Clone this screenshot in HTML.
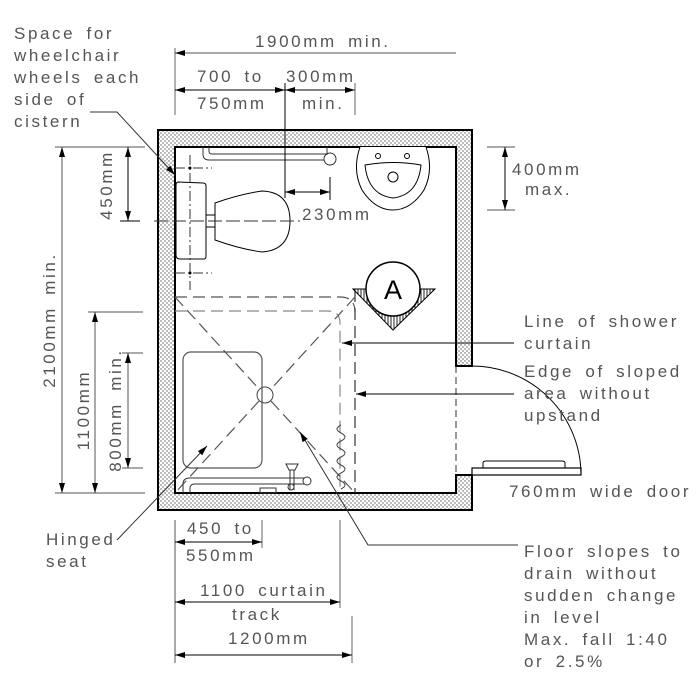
<!DOCTYPE html>
<html><head><style>body{margin:0;background:#fff}svg{display:block}</style></head><body>
<svg width="700" height="700" viewBox="0 0 700 700" xmlns="http://www.w3.org/2000/svg" font-family="Liberation Sans, sans-serif">
<defs>
<pattern id="dots" width="4" height="4" patternUnits="userSpaceOnUse"><rect width="4" height="4" fill="#fff"/><circle cx="1" cy="1" r="0.7" fill="#555"/><circle cx="3" cy="3" r="0.7" fill="#555"/></pattern>
<pattern id="hatch" width="3" height="3" patternUnits="userSpaceOnUse"><rect width="3" height="3" fill="#fff"/><line x1="1" y1="0" x2="1" y2="3" stroke="#222" stroke-width="1"/></pattern>
<marker id="ar" viewBox="0 0 10 6" refX="10" refY="3" markerWidth="12" markerHeight="6" markerUnits="userSpaceOnUse" orient="auto-start-reverse"><path d="M0,0 L10,3 L0,6 Z" fill="#000"/></marker>
</defs>
<path d="M158,130 H472 V366 H456 V147 H175 V493 H456 V475 H472 V510 H158 Z" fill="url(#dots)" stroke="#000" stroke-width="2"/>
<line x1="456" y1="366" x2="456" y2="475" stroke="#333" stroke-dasharray="7,4"/>
<rect x="472" y="468" width="109" height="7" fill="#fff" stroke="#000" stroke-width="1.2"/>
<path d="M483,468 V463 Q483,461 486,461 H562 Q565,461 565,463 V468" fill="none" stroke="#000"/>
<path d="M472,366 A109,109 0 0 1 581,475" fill="none" stroke="#000"/>
<g fill="none" stroke="#555" stroke-dasharray="12,6" stroke-width="1.2">
<path d="M175,297 H340 Q355,297 355,312"/>
<path d="M175,311 H328 Q340,311 340,323 V493" stroke="#888"/>
<line x1="355" y1="290" x2="355" y2="493" stroke="#333"/>
<line x1="175" y1="297" x2="259" y2="389"/>
<line x1="271" y1="401" x2="355" y2="493"/>
<line x1="355" y1="297" x2="271" y2="389"/>
<line x1="259" y1="401" x2="175" y2="493"/>
</g>
<circle cx="265" cy="395" r="8" fill="#fff" stroke="#444"/>
<rect x="183" y="352" width="79" height="116" rx="8" fill="none" stroke="#555" stroke-width="1.2"/>
<path d="M183,493 V484 Q183,478 190,478 H305 M190,493 V488 Q190,484 195,484 H305" fill="none" stroke="#333"/>
<circle cx="307" cy="481" r="4" fill="#fff" stroke="#333"/>
<path d="M286,464 H298 L295,470 H289 Z M290,470 V490 M294,470 V490" fill="#fff" stroke="#333"/>
<circle cx="291" cy="487" r="3" fill="none" stroke="#333"/>
<rect x="260" y="488" width="16" height="5" fill="none" stroke="#333"/>
<path d="M341,425 q-8,4 0,8 q8,4 0,8 q-8,4 0,8 q8,4 0,8 q-8,4 0,8 q8,4 0,8 q-8,4 0,8 q8,4 0,8" fill="none" stroke="#444"/>
<path d="M353,289 H435 L393,330 Z" fill="url(#hatch)" stroke="#000"/>
<circle cx="393" cy="289" r="27" fill="#fff" stroke="#000" stroke-width="1.5"/>
<text x="393" y="299" font-size="27" text-anchor="middle">A</text>
<path d="M203,147 V154 Q203,160 209,160 H327" fill="none" stroke="#333"/>
<path d="M209,147 V151 Q209,154 212,154 H327" fill="none" stroke="#333"/>
<circle cx="330" cy="159" r="6" fill="#fff" stroke="#333"/>
<line x1="327" y1="147" x2="327" y2="155" stroke="#333"/>
<path d="M178,182 Q176,182 176,186 V255 Q176,259 180,259 H204 Q206,259 206,256 V186 Q206,183 203,183 Z" fill="#fff" stroke="#000"/>
<rect x="206" y="215" width="9" height="12" fill="none" stroke="#000"/>
<path d="M215,203 Q240,194 262,191 Q290,192 290,221 Q290,250 262,252 Q240,249 215,240 Z" fill="#fff" stroke="#000"/>
<g stroke="#333" stroke-dasharray="10,3,2,3" fill="none">
<line x1="190" y1="155" x2="190" y2="290"/>
<line x1="175" y1="168" x2="212" y2="168"/>
<line x1="175" y1="273" x2="212" y2="273"/>
</g>
<line x1="154" y1="221" x2="300" y2="221" stroke="#333" stroke-dasharray="14,4"/>
<circle cx="190" cy="168" r="1.5"/><circle cx="190" cy="273" r="1.5"/>
<path d="M360,147 Q352,170 362,190 Q375,210 393,210 Q411,210 424,190 Q434,170 426,147" fill="#fff" stroke="#000"/>
<path d="M365,165 Q393,160 421,165 Q418,195 393,198 Q368,195 365,165 Z" fill="none" stroke="#000"/>
<circle cx="378" cy="156" r="2.5" fill="none" stroke="#000"/><circle cx="407" cy="156" r="2.5" fill="none" stroke="#000"/>
<circle cx="393" cy="177" r="5" fill="none" stroke="#000"/>
<g stroke="#000" stroke-width="1" fill="none">
<line x1="175" y1="48" x2="175" y2="115" stroke="#666"/>
<line x1="175" y1="53" x2="456" y2="53" marker-start="url(#ar)" stroke="#555"/>
<line x1="175" y1="90" x2="285" y2="90" marker-start="url(#ar)" marker-end="url(#ar)"/>
<line x1="285" y1="90" x2="355" y2="90" marker-start="url(#ar)" marker-end="url(#ar)"/>
<line x1="285" y1="83" x2="285" y2="198"/>
<line x1="355" y1="83" x2="355" y2="115" stroke="#666"/>
<line x1="285" y1="192" x2="330" y2="192" marker-start="url(#ar)" marker-end="url(#ar)"/>
<line x1="330" y1="177" x2="330" y2="200"/>
<path d="M90,112 H117 L175,175" stroke="#333" marker-end="url(#ar)"/>
<line x1="55" y1="147" x2="145" y2="147" stroke="#555"/>
<line x1="55" y1="493" x2="145" y2="493" stroke="#555"/>
<line x1="62" y1="147" x2="62" y2="493" marker-start="url(#ar)" marker-end="url(#ar)" stroke="#555"/>
<line x1="120" y1="221" x2="140" y2="221"/>
<line x1="128" y1="147" x2="128" y2="221" marker-start="url(#ar)" marker-end="url(#ar)"/>
<line x1="88" y1="312" x2="143" y2="312" stroke="#555"/>
<line x1="95" y1="312" x2="95" y2="493" marker-start="url(#ar)" marker-end="url(#ar)" stroke="#555"/>
<line x1="122" y1="353" x2="143" y2="353" stroke="#555"/>
<line x1="122" y1="468" x2="143" y2="468" stroke="#555"/>
<line x1="128" y1="353" x2="128" y2="468" marker-start="url(#ar)" marker-end="url(#ar)" stroke="#555"/>
<line x1="487" y1="147" x2="515" y2="147" stroke="#555"/>
<line x1="487" y1="210" x2="515" y2="210" stroke="#555"/>
<line x1="505" y1="147" x2="505" y2="210" marker-start="url(#ar)" marker-end="url(#ar)"/>
<line x1="514" y1="343" x2="342" y2="343" marker-end="url(#ar)"/>
<line x1="514" y1="394" x2="356" y2="394" marker-end="url(#ar)"/>
<path d="M518,545 H368 L300,432" stroke="#333" marker-end="url(#ar)"/>
<path d="M117,540 L207,446" stroke="#333" marker-end="url(#ar)"/>
<line x1="175" y1="520" x2="175" y2="663" stroke="#555"/>
<line x1="262" y1="520" x2="262" y2="548" stroke="#666"/>
<line x1="175" y1="542" x2="262" y2="542" marker-start="url(#ar)" marker-end="url(#ar)"/>
<line x1="340" y1="520" x2="340" y2="608" stroke="#666"/>
<line x1="175" y1="602" x2="340" y2="602" marker-start="url(#ar)" marker-end="url(#ar)"/>
<line x1="352" y1="616" x2="352" y2="663" stroke="#666"/>
<line x1="175" y1="655" x2="352" y2="655" marker-start="url(#ar)" marker-end="url(#ar)"/>
</g>
<g font-size="17" fill="#555" letter-spacing="2.6" word-spacing="4">
<text x="14" y="39">Space for</text>
<text x="14" y="61">wheelchair</text>
<text x="14" y="83">wheels each</text>
<text x="14" y="105">side of</text>
<text x="14" y="127">cistern</text>
<text x="255" y="47">1900mm min.</text>
<text x="197" y="82">700 to</text>
<text x="286" y="82">300mm</text>
<text x="197" y="109">750mm</text>
<text x="302" y="109">min.</text>
<text x="302" y="220">230mm</text>
<text x="512" y="175">400mm</text>
<text x="525" y="195">max.</text>
<text x="524" y="327">Line of shower</text>
<text x="524" y="349">curtain</text>
<text x="524" y="377">Edge of sloped</text>
<text x="524" y="399">area without</text>
<text x="524" y="421">upstand</text>
<text x="509" y="497">760mm wide door</text>
<text x="524" y="557">Floor slopes to</text>
<text x="524" y="579">drain without</text>
<text x="524" y="601">sudden change</text>
<text x="524" y="623">in level</text>
<text x="524" y="645">Max. fall 1:40</text>
<text x="524" y="667">or 2.5%</text>
<text x="46" y="545">Hinged</text>
<text x="46" y="567">seat</text>
<text x="187" y="534">450 to</text>
<text x="186" y="561">550mm</text>
<text x="200" y="596">1100 curtain</text>
<text x="232" y="620">track</text>
<text x="228" y="644">1200mm</text>
<text transform="translate(55,320) rotate(-90)" text-anchor="middle">2100mm min.</text>
<text transform="translate(112,185) rotate(-90)" text-anchor="middle">450mm</text>
<text transform="translate(89,410) rotate(-90)" text-anchor="middle">1100mm</text>
<text transform="translate(121,410) rotate(-90)" text-anchor="middle">800mm min.</text>
</g>
</svg>
</body></html>
